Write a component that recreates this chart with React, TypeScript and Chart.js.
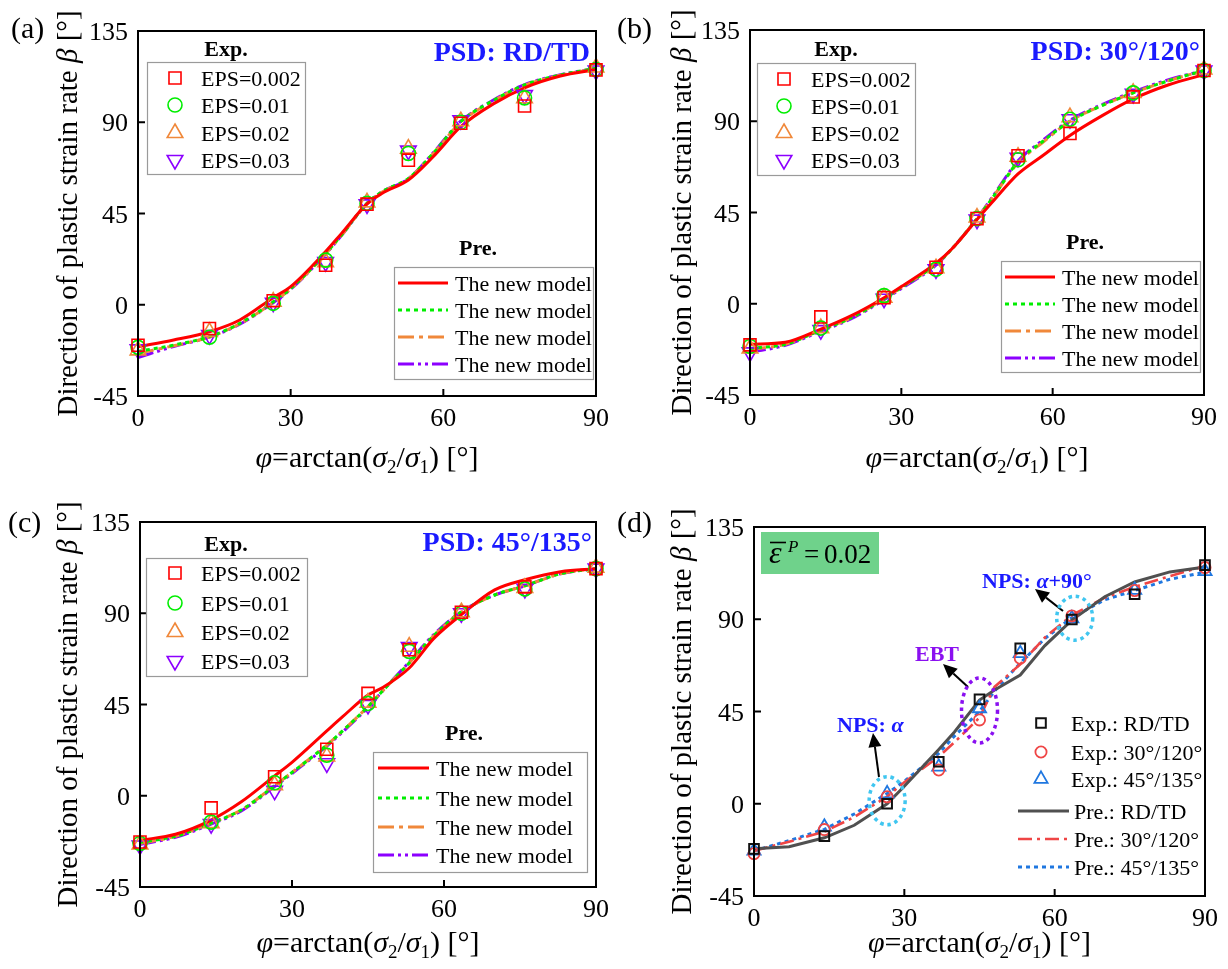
import React, { useEffect, useRef } from "react";
import { Chart, registerables } from "chart.js";

Chart.register(...registerables);

const FONT = '"Liberation Serif", "Times New Roman", Times, serif';

// ---------- shared axes ----------
const PHI_EXP = [0, 14.04, 26.57, 36.87, 45, 53.13, 63.43, 75.96, 90];
const PHI_PRE = [0, 7, 14.04, 20, 26.57, 30, 36.87, 40, 45, 48, 53.13, 58, 63.43, 70, 75.96, 83, 90];
const X_MIN = 0;
const X_MAX = 90;
const X_STEP = 30;
const Y_MIN = -45;
const Y_MAX = 135;
const Y_STEP = 45;

const EPS_LABELS = ["EPS=0.002", "EPS=0.01", "EPS=0.02", "EPS=0.03"];
const MODEL_LABEL = "The new model";
const D_EXP_LABELS = ["Exp.: RD/TD", "Exp.: 30°/120°", "Exp.: 45°/135°"];
const D_PRE_LABELS = ["Pre.: RD/TD", "Pre.: 30°/120°", "Pre.: 45°/135°"];

// ---------- (a) PSD: RD/TD ----------
const A_EXP_0002 = [-20, -11.7, 2, 19.5, 49.6, 71.3, 89.5, 98, 115.8];
const A_EXP_001 = [-21, -16, 0.7, 22, 50, 74.6, 90, 102, 116];
const A_EXP_002 = [-22.5, -13.4, 1.5, 21, 50.5, 77, 90.5, 101.8, 117];
const A_EXP_003 = [-22, -15, 1, 21, 49.5, 76, 91, 103.4, 115.5];
const A_PRE_0002 = [-20.7, -17.4, -13.3, -7.5, 3.5, 8.9, 26.2, 35.2, 49.7, 55, 61.5, 73, 87.8, 99.3, 107, 112.8, 116];
const A_PRE_001 = [-23, -19.9, -15.7, -9.2, 1.5, 8, 25.3, 34.4, 50, 55.8, 62.3, 74.7, 90.3, 101, 108.4, 113.3, 116.6];
const A_PRE_002 = [-24, -20.2, -15.9, -9.4, 1.2, 7.8, 25.1, 34.3, 49.8, 55.6, 62.1, 74.5, 90, 100.8, 108.2, 113.2, 116.5];
const A_PRE_003 = [-26, -20.6, -16, -9.6, 1, 7.6, 25, 34.2, 49.9, 55.7, 62.2, 74.9, 90.5, 101.2, 108.6, 113.4, 116.6];

// ---------- (b) PSD: 30°/120° ----------
const B_EXP_0002 = [-20.3, -6.5, 3, 18, 42, 73, 84, 102, 115];
const B_EXP_001 = [-21, -12, 4, 17, 42, 71, 91, 104, 115];
const B_EXP_002 = [-22, -12, 3, 17.5, 42.5, 72.5, 92, 104, 115.5];
const B_EXP_003 = [-24, -13, 2.5, 17, 41.5, 72, 91, 103.5, 115];
const B_PRE_0002 = [-20, -19, -12.5, -6, 3, 8.5, 20, 27, 41.5, 50, 64, 73, 83, 93, 101, 108, 113];
const B_PRE_001 = [-22, -20, -13, -7, 2.5, 8, 19.5, 27, 42, 52, 70, 80, 90, 98, 104, 110, 115];
const B_PRE_002 = [-22.5, -20, -13, -7, 2.5, 8, 19.5, 27, 42, 52, 69.5, 79.5, 90, 98, 104, 110, 115];
const B_PRE_003 = [-24, -20.5, -13.5, -7.5, 2, 7.5, 19, 27, 42, 52.5, 70.5, 80.5, 90.5, 98.5, 104.5, 110.5, 115];

// ---------- (c) PSD: 45°/135° ----------
const C_EXP_0002 = [-22.8, -6, 9.4, 22.9, 50.5, 72, 90.5, 103, 112];
const C_EXP_001 = [-23.5, -13, 6.4, 20, 45.5, 71.2, 90, 102, 112];
const C_EXP_002 = [-24, -13.5, 5.2, 19.4, 45.9, 73.5, 90.5, 102.5, 112.5];
const C_EXP_003 = [-24.5, -14, 2.5, 16, 44.8, 73.3, 90, 102, 112];
const C_PRE_0002 = [-22, -19, -12, -3, 9.8, 16.5, 32, 39, 49.7, 53.5, 63, 77.6, 89.3, 101.5, 106.5, 110.5, 112];
const C_PRE_001 = [-23, -20, -13.5, -7, 5, 11.5, 25, 32, 44, 52, 65.5, 79, 90.6, 99, 103.5, 109.5, 112];
const C_PRE_002 = [-23.5, -20, -13.5, -7, 5, 11.5, 25, 32, 44, 52, 65.5, 79, 90.6, 99, 103.5, 109.5, 112];
const C_PRE_003 = [-24, -20.5, -14, -7.5, 4.5, 11, 24.5, 31.5, 43.5, 52, 66, 79.5, 90.8, 99, 103.5, 109.5, 112];

// ---------- (d) EPS = 0.02 comparison ----------
const D_EXP_RDTD = [-22, -15.8, 0, 20.5, 50.9, 75.8, 89.9, 102.2, 116.4];
const D_EXP_30 = [-24.4, -12.6, 3.4, 16.5, 40.9, 71, 91.6, 104, 115.2];
const D_EXP_45 = [-23, -11.3, 5, 18, 46.5, 73.4, 90.4, 104.2, 113.4];
const D_PRE_RDTD = [-22, -21, -16.6, -10.5, 0, 8.5, 26.5, 35, 50.6, 55.5, 62.8, 77, 89.6, 101, 108.2, 113.1, 115.5];
const D_PRE_30 = [-23, -18.5, -13.6, -6.5, 3.5, 10.5, 23, 30, 42, 57, 68, 81, 92, 100.5, 105.8, 111, 116];
const D_PRE_45 = [-23, -18, -12.5, -5, 5, 11, 24.6, 33, 45, 55, 68.6, 80.5, 90.8, 99.5, 104, 109.5, 113];

// annotated points in (d): [phi, beta]
const D_NPS_A = [26.57, 1.5];
const D_EBT = [45, 45.5];
const D_NPS_A90 = [64, 90.5];

// ---------- colours ----------
const RED = "#ff0000";
const GREEN = "#00ee00";
const ORANGE = "#f0883a";
const PURPLE = "#8c00ff";
const D_BLACK = "#111111";
const D_RED = "#ef4545";
const D_BLUE = "#1f77e0";
const D_GREY = "#505050";
const TXT_BLUE = "#1a1aff";
const TXT_PURPLE = "#8a10f0";
const CYAN = "#40c6f0";

function font(size: number, style = "") {
  return `${style} ${size}px ${FONT}`.trim();
}

type Seg = { t: string; f: string; dy?: number };

function drawRich(ctx: CanvasRenderingContext2D, segs: Seg[], x: number, y: number, align: "left" | "center" | "right") {
  let w = 0;
  for (const s of segs) {
    ctx.font = s.f;
    w += ctx.measureText(s.t).width;
  }
  let cx = align === "center" ? x - w / 2 : align === "right" ? x - w : x;
  ctx.textAlign = "left";
  ctx.textBaseline = "alphabetic";
  for (const s of segs) {
    ctx.font = s.f;
    ctx.fillText(s.t, cx, y + (s.dy || 0));
    cx += ctx.measureText(s.t).width;
  }
}

function drawMarker(ctx: CanvasRenderingContext2D, style: string, x: number, y: number, r: number, rot: number, color: string, lw: number) {
  ctx.save();
  ctx.strokeStyle = color;
  ctx.lineWidth = lw;
  ctx.setLineDash([]);
  ctx.beginPath();
  if (style === "rect") {
    const s = r * Math.SQRT1_2;
    ctx.rect(x - s, y - s, 2 * s, 2 * s);
  } else if (style === "circle") {
    ctx.arc(x, y, r, 0, Math.PI * 2);
  } else {
    let rad = (rot * Math.PI) / 180;
    ctx.moveTo(x + Math.sin(rad) * r, y - Math.cos(rad) * r);
    rad += (2 * Math.PI) / 3;
    ctx.lineTo(x + Math.sin(rad) * r, y - Math.cos(rad) * r);
    rad += (2 * Math.PI) / 3;
    ctx.lineTo(x + Math.sin(rad) * r, y - Math.cos(rad) * r);
    ctx.closePath();
  }
  ctx.stroke();
  ctx.restore();
}

function drawArrow(ctx: CanvasRenderingContext2D, x0: number, y0: number, x1: number, y1: number) {
  const ang = Math.atan2(y1 - y0, x1 - x0);
  const hl = 14;
  const hw = 6.5;
  const bx = x1 - hl * Math.cos(ang);
  const by = y1 - hl * Math.sin(ang);
  ctx.save();
  ctx.setLineDash([]);
  ctx.strokeStyle = "#000";
  ctx.lineWidth = 2;
  ctx.beginPath();
  ctx.moveTo(x0, y0);
  ctx.lineTo(bx, by);
  ctx.stroke();
  ctx.fillStyle = "#000";
  ctx.beginPath();
  ctx.moveTo(x1, y1);
  ctx.lineTo(bx + hw * Math.sin(ang), by - hw * Math.cos(ang));
  ctx.lineTo(bx - hw * Math.sin(ang), by + hw * Math.cos(ang));
  ctx.closePath();
  ctx.fill();
  ctx.restore();
}

function expDs(label: string, data: number[], style: string, color: string, radius: number, rotation = 0, lw = 1.6) {
  return {
    label,
    kind: "exp",
    data: PHI_EXP.map((x, i) => ({ x, y: data[i] })),
    showLine: false,
    pointStyle: style,
    pointRadius: radius,
    pointHoverRadius: radius,
    pointRotation: rotation,
    pointBorderColor: color,
    pointBackgroundColor: "rgba(0,0,0,0)",
    pointBorderWidth: lw,
    borderColor: color,
    backgroundColor: "rgba(0,0,0,0)",
    order: 0,
    clip: false,
  };
}

function preDs(label: string, data: number[], color: string, dash: number[], width: number, smooth: boolean) {
  return {
    label,
    kind: "pre",
    data: PHI_PRE.map((x, i) => ({ x, y: data[i] })),
    showLine: true,
    borderColor: color,
    borderWidth: width,
    borderDash: dash,
    pointRadius: 0,
    pointHoverRadius: 0,
    fill: false,
    tension: 0,
    cubicInterpolationMode: smooth ? "monotone" : "default",
    order: 1,
    clip: false,
  };
}

interface LegendSpec {
  box?: [number, number, number, number];
  title?: [string, number, number];
  rows: number[];
  markerX?: number;
  lineX0?: number;
  lineX1?: number;
  textX: number;
  size: number;
}

interface PanelSpec {
  id: string;
  x: number;
  y: number;
  pad: { left: number; top: number; right: number; bottom: number };
  label: string;
  labelX: number;
  labelY: number;
  psd?: [string, number, number];
  datasets: any[];
  expLegend: LegendSpec;
  preLegend: LegendSpec;
  extra?: (ctx: CanvasRenderingContext2D, chart: any) => void;
}

function abcDatasets(e: number[][], p: number[][]) {
  return [
    expDs(EPS_LABELS[0], e[0], "rect", RED, 8.5),
    expDs(EPS_LABELS[1], e[1], "circle", GREEN, 7),
    expDs(EPS_LABELS[2], e[2], "triangle", ORANGE, 9),
    expDs(EPS_LABELS[3], e[3], "triangle", PURPLE, 9, 180),
    preDs(MODEL_LABEL, p[0], RED, [], 3, true),
    preDs(MODEL_LABEL, p[1], GREEN, [4, 4], 3, true),
    preDs(MODEL_LABEL, p[2], ORANGE, [16, 5, 4, 5], 3, true),
    preDs(MODEL_LABEL, p[3], PURPLE, [16, 4, 3, 4, 3, 4], 3, true),
  ];
}

const PANELS: PanelSpec[] = [
  {
    id: "a",
    x: 0,
    y: 0,
    pad: { left: 138, top: 31, right: 18, bottom: 88 },
    label: "(a)",
    labelX: 11,
    labelY: 38,
    psd: ["PSD: RD/TD", 590, 61],
    datasets: abcDatasets([A_EXP_0002, A_EXP_001, A_EXP_002, A_EXP_003], [A_PRE_0002, A_PRE_001, A_PRE_002, A_PRE_003]),
    expLegend: { box: [147, 62, 158, 112], title: ["Exp.", 226, 48], rows: [78, 105, 133, 160], markerX: 175, textX: 201, size: 22 },
    preLegend: { box: [394, 267, 199, 112], title: ["Pre.", 478, 247], rows: [283, 310, 337, 364], lineX0: 398, lineX1: 448, textX: 455, size: 22 },
  },
  {
    id: "b",
    x: 614,
    y: 0,
    pad: { left: 136, top: 30, right: 24, bottom: 89 },
    label: "(b)",
    labelX: 3,
    labelY: 38,
    psd: ["PSD: 30°/120°", 586, 60],
    datasets: abcDatasets([B_EXP_0002, B_EXP_001, B_EXP_002, B_EXP_003], [B_PRE_0002, B_PRE_001, B_PRE_002, B_PRE_003]),
    expLegend: { box: [143, 63, 158, 112], title: ["Exp.", 222, 48], rows: [79, 106, 133, 160], markerX: 170, textX: 197, size: 22 },
    preLegend: { box: [387, 261, 199, 111], title: ["Pre.", 471, 241], rows: [277, 304, 331, 358], lineX0: 391, lineX1: 441, textX: 448, size: 22 },
  },
  {
    id: "c",
    x: 0,
    y: 485,
    pad: { left: 140, top: 37, right: 18, bottom: 82 },
    label: "(c)",
    labelX: 8,
    labelY: 47,
    psd: ["PSD: 45°/135°", 592, 66],
    datasets: abcDatasets([C_EXP_0002, C_EXP_001, C_EXP_002, C_EXP_003], [C_PRE_0002, C_PRE_001, C_PRE_002, C_PRE_003]),
    expLegend: { box: [146, 73, 161, 118], title: ["Exp.", 226, 58], rows: [88, 118, 147, 176], markerX: 175, textX: 201, size: 22 },
    preLegend: { box: [373, 267, 214, 120], title: ["Pre.", 464, 247], rows: [283, 313, 342, 370], lineX0: 378, lineX1: 429, textX: 436, size: 22 },
  },
  {
    id: "d",
    x: 614,
    y: 485,
    pad: { left: 140, top: 42, right: 23, bottom: 73 },
    label: "(d)",
    labelX: 3,
    labelY: 47,
    datasets: [
      expDs(D_EXP_LABELS[0], D_EXP_RDTD, "rect", D_BLACK, 6.8, 0, 2),
      expDs(D_EXP_LABELS[1], D_EXP_30, "circle", D_RED, 5.6, 0, 1.8),
      expDs(D_EXP_LABELS[2], D_EXP_45, "triangle", D_BLUE, 7.6, 0, 1.8),
      preDs(D_PRE_LABELS[0], D_PRE_RDTD, D_GREY, [], 3, false),
      preDs(D_PRE_LABELS[1], D_PRE_30, D_RED, [14, 5, 3, 5], 2.6, false),
      preDs(D_PRE_LABELS[2], D_PRE_45, D_BLUE, [4, 4], 3, false),
    ],
    expLegend: { rows: [238, 267, 294], markerX: 427, textX: 457, size: 22 },
    preLegend: { rows: [326, 354, 382], lineX0: 404, lineX1: 455, textX: 460, size: 22 },
    extra: (ctx, chart) => {
      const xs = chart.scales.x;
      const ys = chart.scales.y;
      // green box with ε̄^P = 0.02
      ctx.fillStyle = "#6fd28b";
      ctx.fillRect(147, 47, 118, 42);
      ctx.fillStyle = "#000";
      ctx.textAlign = "left";
      ctx.textBaseline = "alphabetic";
      ctx.font = font(32, "italic");
      ctx.fillText("ε", 155, 78);
      ctx.strokeStyle = "#000";
      ctx.lineWidth = 1.6;
      ctx.setLineDash([]);
      ctx.beginPath();
      ctx.moveTo(156, 57.5);
      ctx.lineTo(172, 57.5);
      ctx.stroke();
      ctx.font = font(17, "italic");
      ctx.fillText("P", 174, 67);
      ctx.font = font(27);
      ctx.fillText("=", 190, 78);
      ctx.fillText("0.02", 210, 78);
      // annotation texts
      ctx.fillStyle = TXT_BLUE;
      drawRich(ctx, [
        { t: "NPS: ", f: font(22, "bold") },
        { t: "α", f: font(22, "italic bold") },
        { t: "+90°", f: font(22, "bold") },
      ], 368, 103, "left");
      drawRich(ctx, [
        { t: "NPS: ", f: font(22, "bold") },
        { t: "α", f: font(22, "italic bold") },
      ], 223, 247, "left");
      ctx.fillStyle = TXT_PURPLE;
      drawRich(ctx, [{ t: "EBT", f: font(22, "bold") }], 301, 176, "left");
      // arrows
      drawArrow(ctx, 449, 126, 421, 104);
      drawArrow(ctx, 354, 202, 329, 179);
      drawArrow(ctx, 265, 292, 259, 248);
      // dotted ellipses around data points
      const ell = (pt: number[], rx: number, ry: number, color: string) => {
        ctx.save();
        ctx.strokeStyle = color;
        ctx.lineWidth = 3.5;
        ctx.setLineDash([3.5, 3.8]);
        ctx.beginPath();
        ctx.ellipse(xs.getPixelForValue(pt[0]), ys.getPixelForValue(pt[1]), rx, ry, 0, 0, Math.PI * 2);
        ctx.stroke();
        ctx.restore();
      };
      ell(D_NPS_A, 18, 24, CYAN);
      ell(D_EBT, 18, 32.5, TXT_PURPLE);
      ell(D_NPS_A90, 18, 22, CYAN);
    },
  },
];

function makeDecor(p: PanelSpec) {
  return {
    id: "decor_" + p.id,
    afterDatasetsDraw(chart: any) {
      const ctx: CanvasRenderingContext2D = chart.ctx;
      const { left, right, top, bottom } = chart.chartArea;
      const xs = chart.scales.x;
      const ys = chart.scales.y;
      ctx.save();
      // frame
      ctx.setLineDash([]);
      ctx.strokeStyle = "#000";
      ctx.lineWidth = 2;
      ctx.strokeRect(left, top, right - left, bottom - top);
      // ticks + labels
      ctx.fillStyle = "#000";
      xs.ticks.forEach((t: any) => {
        const x = xs.getPixelForValue(t.value);
        ctx.beginPath();
        ctx.moveTo(x, bottom);
        ctx.lineTo(x, bottom - 7);
        ctx.stroke();
        ctx.font = font(26);
        ctx.textAlign = "center";
        ctx.textBaseline = "alphabetic";
        ctx.fillText(String(t.value), x, bottom + 30);
      });
      ys.ticks.forEach((t: any) => {
        const y = ys.getPixelForValue(t.value);
        ctx.beginPath();
        ctx.moveTo(left, y);
        ctx.lineTo(left + 7, y);
        ctx.stroke();
        ctx.font = font(26);
        ctx.textAlign = "right";
        ctx.textBaseline = "alphabetic";
        ctx.fillText(String(t.value), left - 10, y + 9);
      });
      // x title
      drawRich(ctx, [
        { t: "φ", f: font(30, "italic") },
        { t: "=arctan(", f: font(30) },
        { t: "σ", f: font(30, "italic") },
        { t: "2", f: font(19), dy: 6 },
        { t: "/", f: font(30) },
        { t: "σ", f: font(30, "italic") },
        { t: "1", f: font(19), dy: 6 },
        { t: ") [°]", f: font(30) },
      ], (left + right) / 2, 467, "center");
      // y title
      ctx.save();
      ctx.translate(77, (top + bottom) / 2);
      ctx.rotate(-Math.PI / 2);
      drawRich(ctx, [
        { t: "Direction of plastic strain rate ", f: font(29) },
        { t: "β", f: font(29, "italic") },
        { t: " [°]", f: font(29) },
      ], 0, 0, "center");
      ctx.restore();
      // panel label
      ctx.font = font(30);
      ctx.textAlign = "left";
      ctx.fillText(p.label, p.labelX, p.labelY);
      // PSD
      if (p.psd) {
        ctx.fillStyle = TXT_BLUE;
        ctx.font = font(28, "bold");
        ctx.textAlign = "right";
        ctx.fillText(p.psd[0], p.psd[1], p.psd[2]);
        ctx.fillStyle = "#000";
      }
      // legends
      const exps = chart.data.datasets.filter((d: any) => d.kind === "exp");
      const pres = chart.data.datasets.filter((d: any) => d.kind === "pre");
      const drawBox = (L: LegendSpec) => {
        if (L.box) {
          ctx.fillStyle = "#fff";
          ctx.fillRect(L.box[0], L.box[1], L.box[2], L.box[3]);
          ctx.strokeStyle = "#9a9a9a";
          ctx.lineWidth = 1.2;
          ctx.setLineDash([]);
          ctx.strokeRect(L.box[0] + 0.5, L.box[1] + 0.5, L.box[2], L.box[3]);
        }
        if (L.title) {
          ctx.fillStyle = "#000";
          ctx.font = font(22, "bold");
          ctx.textAlign = "center";
          ctx.textBaseline = "alphabetic";
          ctx.fillText(L.title[0], L.title[1], L.title[2] + 7.5);
        }
      };
      const E = p.expLegend;
      drawBox(E);
      exps.forEach((d: any, i: number) => {
        const cy = E.rows[i];
        drawMarker(ctx, d.pointStyle, E.markerX as number, cy, d.pointRadius, d.pointRotation, d.pointBorderColor, d.pointBorderWidth);
        ctx.fillStyle = "#000";
        ctx.font = font(E.size);
        ctx.textAlign = "left";
        ctx.textBaseline = "alphabetic";
        ctx.fillText(d.label, E.textX, cy + 7.5);
      });
      const P = p.preLegend;
      drawBox(P);
      pres.forEach((d: any, i: number) => {
        const cy = P.rows[i];
        ctx.save();
        ctx.strokeStyle = d.borderColor;
        ctx.lineWidth = d.borderWidth;
        ctx.setLineDash(d.borderDash || []);
        ctx.beginPath();
        ctx.moveTo(P.lineX0 as number, cy);
        ctx.lineTo(P.lineX1 as number, cy);
        ctx.stroke();
        ctx.restore();
        ctx.fillStyle = "#000";
        ctx.font = font(P.size);
        ctx.textAlign = "left";
        ctx.textBaseline = "alphabetic";
        ctx.fillText(d.label, P.textX, cy + 7.5);
      });
      if (p.extra) p.extra(ctx, chart);
      ctx.restore();
    },
  };
}

function PanelChart({ spec }: { spec: PanelSpec }) {
  const ref = useRef<HTMLCanvasElement | null>(null);
  useEffect(() => {
    if (!ref.current) return;
    const zero = (s: any) => {
      if (s.isHorizontal()) s.height = 0;
      else s.width = 0;
    };
    const chart = new Chart(ref.current, {
      type: "scatter",
      data: { datasets: spec.datasets as any },
      options: {
        animation: false,
        responsive: false,
        devicePixelRatio: 1,
        events: [],
        layout: { padding: spec.pad },
        plugins: { legend: { display: false }, tooltip: { enabled: false } },
        scales: {
          x: {
            type: "linear",
            min: X_MIN,
            max: X_MAX,
            ticks: { stepSize: X_STEP, display: false },
            grid: { display: false, drawTicks: false },
            border: { display: false },
            afterFit: zero,
          },
          y: {
            type: "linear",
            min: Y_MIN,
            max: Y_MAX,
            ticks: { stepSize: Y_STEP, display: false },
            grid: { display: false, drawTicks: false },
            border: { display: false },
            afterFit: zero,
          },
        },
      } as any,
      plugins: [makeDecor(spec)],
    });
    return () => chart.destroy();
  }, [spec]);
  return (
    <canvas
      ref={ref}
      width={614}
      height={484}
      style={{ position: "absolute", left: spec.x, top: spec.y, width: 614, height: 484 }}
    />
  );
}

export default function App() {
  return (
    <div style={{ position: "absolute", left: 0, top: 0, width: 1228, height: 969, background: "#fff", overflow: "hidden" }}>
      {PANELS.map((p) => (
        <PanelChart key={p.id} spec={p} />
      ))}
    </div>
  );
}
